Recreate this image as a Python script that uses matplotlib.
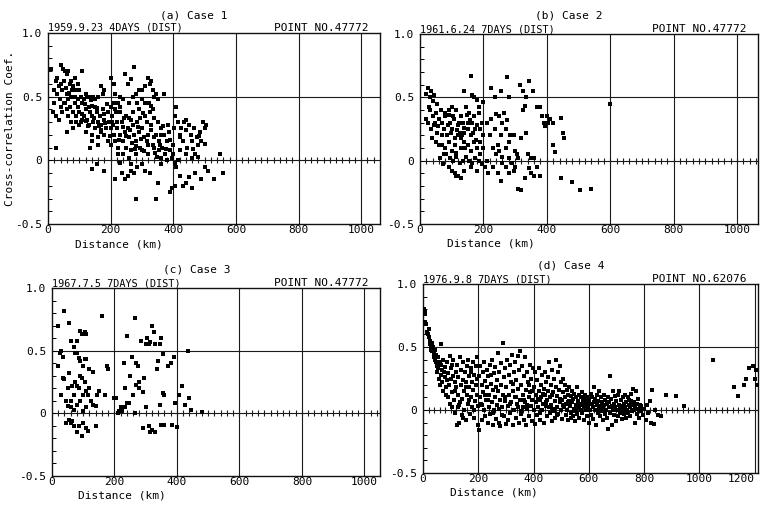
import numpy as np
import matplotlib
matplotlib.use("Agg")
from matplotlib import pyplot as plt
from matplotlib.ticker import MultipleLocator

plt.rcParams['font.family'] = ['DejaVu Sans Mono']

# ---- (a) Case 1 : 1959.9.23 4DAYS ----
dist_a = [10, 25, 28, 40, 42, 48, 55, 60, 65, 70, 75, 80, 85, 90, 95, 100, 110, 35, 45, 52,
          58, 62, 68, 72, 78, 30, 20, 38, 50, 65, 85, 95, 105, 115, 120, 125, 135, 145, 150, 160,
          170, 180, 175,
          15, 20, 25, 35, 40, 45, 55, 60, 65, 70, 75, 80, 85, 90, 95, 100, 105, 110, 115, 120,
          125, 130, 135, 140, 145, 150, 155, 160, 165, 170, 175, 180, 185, 190, 195, 200, 205, 210,
          215, 220, 225, 230, 60, 80, 100, 120, 140, 160, 180, 200, 90, 110, 130, 150, 170, 190,
          25, 135, 160, 140,
          200, 210, 230, 245, 255, 265, 275, 280, 290, 300, 310, 320, 325, 330, 335, 340, 345, 350,
          370, 240, 260, 285, 310, 330, 215, 225, 270, 300,
          205, 210, 215, 220, 225, 230, 235, 240, 245, 250, 255, 260, 265, 270, 275, 280, 285, 290,
          295, 300, 305, 310, 315, 320, 325, 330, 335, 340, 345, 350, 355, 360, 365, 370, 375, 380,
          385, 390, 395, 400, 240, 260, 280, 300, 320, 340, 360, 380, 250, 270, 290, 230, 265, 295,
          315, 335, 355,
          405, 410, 415, 420, 425, 430, 435, 440, 445, 450, 455, 460, 465, 470, 475, 480, 485, 490,
          495, 500, 505, 440, 420, 460, 480, 550, 415, 405,
          140, 180, 155, 215, 235, 245, 255, 265, 275, 280, 285, 310, 325, 345, 350, 360, 390, 395,
          405, 410, 420, 430, 440, 450, 460, 470, 490, 500, 510, 530, 560, 265, 300, 230,
          110, 118, 128, 138, 148, 158, 168, 178, 188, 198, 208, 218, 228, 238, 248, 258, 268, 278,
          288, 298, 308, 318, 328, 338, 348, 358, 368, 378, 388, 398, 122, 142, 162, 182, 202, 222,
          242, 262, 282, 302, 322, 342, 362, 382, 402, 422, 442, 462, 482, 502]
coef_a = [0.72, 0.62, 0.65, 0.75, 0.60, 0.72, 0.70, 0.68, 0.70, 0.60, 0.62, 0.58, 0.65, 0.55, 0.60, 0.55, 0.70, 0.58, 0.55, 0.62,
          0.57, 0.52, 0.53, 0.50, 0.55, 0.52, 0.55, 0.48, 0.45, 0.48, 0.50, 0.48, 0.50, 0.48, 0.52, 0.50, 0.50, 0.50, 0.48, 0.50,
          0.58, 0.55, 0.52,
          0.38, 0.45, 0.35, 0.32, 0.42, 0.38, 0.45, 0.40, 0.35, 0.42, 0.30, 0.38, 0.45, 0.35, 0.42, 0.38, 0.30, 0.45, 0.35, 0.40,
          0.32, 0.42, 0.38, 0.35, 0.30, 0.42, 0.38, 0.30, 0.35, 0.28, 0.40, 0.32, 0.25, 0.38, 0.30, 0.42, 0.35, 0.45,
          0.40, 0.30, 0.38, 0.42, 0.22, 0.25, 0.28, 0.22, 0.20, 0.18, 0.20, 0.25, 0.30, 0.32, 0.28, 0.25, 0.22, 0.15,
          0.10, 0.10, 0.12, 0.15,
          0.65, 0.60, 0.50, 0.68, 0.60, 0.64, 0.73, 0.52, 0.55, 0.55, 0.58, 0.65, 0.60, 0.62, 0.55, 0.50, 0.52, 0.48,
          0.52, 0.48, 0.45, 0.45, 0.45, 0.43, 0.52, 0.45, 0.50, 0.48,
          0.30, 0.20, 0.15, 0.25, 0.10, 0.20, 0.30, 0.15, 0.22, 0.10, 0.25, 0.18, 0.08, 0.28, 0.20, 0.15, 0.30, 0.22,
          0.10, 0.25, 0.18, 0.35, 0.30, 0.12, 0.38, 0.28, 0.40, 0.33, 0.20, 0.30, 0.15, 0.25, 0.10, 0.20, 0.05, 0.15,
          0.22, 0.08, 0.02, 0.12, 0.05, 0.02, 0.05, 0.08, 0.05, 0.10, 0.02, 0.00, 0.35, 0.38, 0.40, 0.38, 0.32, 0.33,
          0.15, 0.12, 0.08,
          0.35, 0.42, 0.30, 0.20, 0.25, 0.15, 0.30, 0.32, 0.10, 0.28, 0.20, 0.15, 0.25, 0.05, 0.18, 0.12, 0.22, 0.15,
          0.30, 0.25, 0.28, 0.05, 0.08, 0.02, 0.03, 0.05, 0.00, -0.02,
          -0.07, -0.08, -0.03, -0.15, -0.10, -0.15, -0.12, -0.08, -0.10, -0.30, -0.05, -0.08, -0.10, -0.30, -0.18, -0.03, -0.25, -0.22,
          -0.20, -0.05, -0.12, -0.20, -0.18, -0.13, -0.22, -0.10, -0.15, -0.05, -0.08, -0.15, -0.10, -0.03, -0.03, -0.02,
          0.36, 0.44, 0.27, 0.47, 0.33, 0.41, 0.24, 0.36, 0.44, 0.19, 0.28, 0.38, 0.16, 0.26, 0.19, 0.33, 0.14, 0.09,
          0.26, 0.17, 0.07, 0.20, 0.24, 0.18, 0.03, 0.12, 0.27, 0.09, 0.16, 0.05, 0.31, 0.43, 0.27, 0.29, 0.12, 0.05,
          0.33, 0.24, 0.11, 0.37, 0.45, 0.06, 0.20, 0.28, 0.25, 0.18, 0.24, 0.09, 0.19, 0.13]

# ---- (b) Case 2 : 1961.6.24 7DAYS ----
dist_b = [20, 25, 30, 35, 40, 45, 55, 160, 140, 170, 180, 165, 185, 200, 225, 235, 255, 275, 280, 315,
          325, 335, 345, 355, 600,
          20, 25, 30, 35, 40, 45, 50, 55, 60, 65, 70, 75, 80, 85, 90, 95, 100, 105, 110, 115, 120,
          125, 130, 135, 140, 145, 150, 155, 160, 165, 170, 175, 180, 185, 190, 195, 200, 50, 60, 70,
          80, 90, 100, 110, 120, 130, 140, 150, 160, 170, 180, 190, 75, 95, 105, 115, 125, 135, 145,
          155, 165, 175, 185, 195, 210, 90, 100, 110, 115, 120, 130, 140, 160, 180, 205, 215,
          210, 220, 225, 235, 240, 245, 250, 255, 260, 265, 270, 275, 280, 285, 290, 295, 300, 305,
          310, 320, 325, 330, 335, 340, 350, 360, 370, 380, 385, 390, 395, 400, 405, 410, 420, 420,
          425, 445, 450, 455, 230, 240, 250, 260, 270, 280, 300, 290, 245, 255, 270, 280, 295, 310,
          320, 330, 350, 360, 370, 380, 445, 480, 505, 540, 230, 260, 345,
          28, 38, 48, 58, 68, 78, 88, 98, 108, 118, 128, 138, 148, 158, 168, 178, 188, 198,
          62, 72, 82, 92, 102, 112, 122, 132, 142, 152]
coef_b = [0.53, 0.57, 0.50, 0.55, 0.47, 0.52, 0.45, 0.67, 0.55, 0.50, 0.48, 0.52, 0.42, 0.46, 0.57, 0.50, 0.55, 0.66, 0.50, 0.60,
          0.55, 0.50, 0.63, 0.55, 0.45,
          0.33, 0.30, 0.40, 0.25, 0.35, 0.28, 0.38, 0.22, 0.33, 0.40, 0.30, 0.25, 0.35, 0.20, 0.40, 0.30, 0.25, 0.35, 0.18, 0.40, 0.28,
          0.22, 0.35, 0.30, 0.15, 0.42, 0.25, 0.38, 0.20, 0.30, 0.35, 0.25, 0.28, 0.38, 0.15, 0.30, 0.20, 0.15, 0.12, 0.20,
          0.10, 0.15, 0.08, 0.12, 0.20, 0.10, 0.22, 0.12, 0.08, 0.15, 0.10, 0.05, 0.05, 0.02, 0.00, 0.03, -0.02, 0.00, 0.03,
          0.00, -0.02, 0.02, 0.00, -0.03, 0.00, -0.05, -0.08, -0.10, -0.12, -0.12, -0.14, -0.08, -0.05, -0.08, -0.05, -0.10,
          0.30, 0.20, 0.33, 0.25, 0.37, 0.12, 0.35, 0.20, 0.30, 0.38, 0.25, 0.32, 0.15, 0.20, 0.20, 0.20, 0.08, 0.05,
          0.02, 0.18, 0.40, 0.43, 0.22, 0.05, 0.02, 0.02, 0.42, 0.42, 0.35, 0.30, 0.27, 0.35, 0.30, 0.33, 0.30, 0.12,
          0.07, 0.34, 0.22, 0.18, 0.10, 0.05, 0.08, 0.03, 0.10, 0.02, -0.05, -0.02, -0.10, -0.16, -0.05, -0.10, -0.08, -0.22,
          -0.23, -0.14, -0.10, -0.12, -0.05, -0.12, -0.14, -0.17, -0.23, -0.22, -0.05, -0.02, -0.06,
          0.42, 0.18, 0.30, 0.27, 0.12, 0.38, 0.28, 0.22, 0.33, 0.24, 0.18, 0.26, 0.36, 0.32, 0.22, 0.16, 0.25, 0.10,
          0.02, -0.03, 0.05, 0.36, 0.42, 0.06, 0.30, 0.20, 0.10, 0.30]

# ---- (c) Case 3 : 1967.7.5 7DAYS ----
dist_c = [20, 40, 30, 25, 20, 35, 55, 60, 70, 80, 90, 95, 105, 110, 160, 75, 80, 85, 90, 100,
          105, 110, 120, 130,
          30, 35, 40, 45, 50, 55, 60, 65, 70, 75, 80, 85, 90, 95, 100, 105, 110, 115, 120, 125,
          130, 140, 145, 150, 170, 175, 180, 200, 205, 50, 60, 70, 80, 90, 100, 110, 45, 55, 60,
          65, 70, 80, 85, 95, 100, 110, 115, 140,
          210, 215, 220, 230, 235, 240, 245, 250, 255, 260, 265, 270, 275, 280, 285, 290, 295, 300,
          305, 310, 315, 320, 325, 330, 335, 340, 345, 350, 355, 360, 370, 380, 390, 395, 405, 415,
          425, 435, 440, 445, 265, 225, 300, 280, 290, 310, 315, 320, 330, 350, 360, 385, 400, 270,
          345, 355, 240, 235, 480]
coef_c = [0.70, 0.82, 0.50, 0.48, 0.38, 0.45, 0.72, 0.58, 0.53, 0.58, 0.66, 0.63, 0.65, 0.63, 0.78, 0.48, 0.48, 0.44, 0.42, 0.38,
          0.43, 0.43, 0.35, 0.33,
          0.15, 0.28, 0.27, 0.10, 0.20, 0.32, 0.10, 0.22, 0.15, 0.25, 0.22, 0.20, 0.30, 0.28, 0.15, 0.25, 0.18, 0.15, 0.20, 0.10,
          0.07, 0.06, 0.15, 0.18, 0.15, 0.38, 0.35, 0.12, 0.12, 0.06, 0.05, 0.03, 0.07, 0.10, 0.02, 0.05, -0.08, -0.05, -0.08,
          -0.06, -0.10, -0.15, -0.10, -0.18, -0.08, -0.12, -0.14, -0.10,
          0.00, 0.02, 0.05, 0.40, 0.20, 0.62, 0.08, 0.30, 0.45, 0.15, 0.00, 0.40, 0.38, 0.20, 0.58, 0.17, 0.28, 0.55,
          0.60, 0.55, 0.57, 0.70, 0.65, 0.55, 0.35, 0.42, 0.55, 0.60, 0.47, 0.15, 0.38, 0.40, 0.45, 0.08, 0.15, 0.22,
          0.07, 0.50, 0.12, 0.03, 0.76, 0.02, 0.05, 0.25, -0.12, -0.10, -0.15, -0.13, -0.15, -0.09, -0.09, -0.09, -0.11, 0.23,
          0.07, 0.16, 0.08, 0.05, 0.01]

# ---- (d) Case 4 : 1976.9.8 7DAYS ----
dist_d = [3, 6, 9, 8, 12, 15, 18, 20, 22, 25, 27, 28, 30, 32, 34, 36, 38, 40, 42, 44, 46, 48, 50, 52, 54, 56, 58, 60,
          62, 64, 66, 68, 70, 72, 74, 76, 78, 80, 82, 84, 86, 88, 90, 92, 94, 96, 98, 100, 65,
          102, 104, 106, 108, 110, 112, 114, 116, 118, 120, 122, 124, 126, 128, 130, 132, 134, 136, 138, 140,
          142, 144, 146, 148, 150, 152, 154, 156, 158, 160, 162, 164, 166, 168, 170, 172, 174, 176, 178, 180,
          182, 184, 186, 188, 190, 192, 194, 196, 198, 200, 125, 145, 165, 185, 115, 135, 155, 175, 195, 105,
          202, 204, 206, 208, 210, 212, 214, 216, 218, 220, 222, 224, 226, 228, 230, 232, 234, 236, 238, 240,
          242, 244, 246, 248, 250, 252, 254, 256, 258, 260, 262, 264, 266, 268, 270, 272, 274, 276, 278, 280,
          282, 284, 286, 288, 290, 292, 294, 296, 298, 300, 215, 235, 255, 275, 295, 225, 245, 265, 285,
          302, 304, 306, 308, 310, 312, 314, 316, 318, 320, 322, 324, 326, 328, 330, 332, 334, 336, 338, 340,
          342, 344, 346, 348, 350, 352, 354, 356, 358, 360, 362, 364, 366, 368, 370, 372, 374, 376, 378, 380,
          382, 384, 386, 388, 390, 392, 394, 396, 398, 400, 315, 335, 355, 375, 395, 325, 345, 365, 385,
          402, 404, 406, 408, 410, 412, 414, 416, 418, 420, 422, 424, 426, 428, 430, 432, 434, 436, 438, 440,
          442, 444, 446, 448, 450, 452, 454, 456, 458, 460, 462, 464, 466, 468, 470, 472, 474, 476, 478, 480,
          482, 484, 486, 488, 490, 492, 494, 496, 498, 500, 415, 435, 455, 475, 495, 425, 445, 465, 485,
          502, 504, 506, 508, 510, 512, 514, 516, 518, 520, 522, 524, 526, 528, 530, 532, 534, 536, 538, 540,
          542, 544, 546, 548, 550, 552, 554, 556, 558, 560, 562, 564, 566, 568, 570, 572, 574, 576, 578, 580,
          582, 584, 586, 588, 590, 592, 594, 596, 598, 600, 505, 525, 545, 565, 585, 515, 535, 555, 575,
          602, 604, 606, 608, 610, 612, 614, 616, 618, 620, 622, 624, 626, 628, 630, 632, 634, 636, 638, 640,
          642, 644, 646, 648, 650, 652, 654, 656, 658, 660, 662, 664, 666, 668, 670, 672, 674, 676, 678, 680,
          682, 684, 686, 688, 690, 692, 694, 696, 698, 700,
          702, 704, 706, 708, 710, 712, 714, 716, 718, 720, 722, 724, 726, 728, 730, 732, 734, 736, 738, 740,
          742, 744, 746, 748, 750, 752, 754, 756, 758, 760, 762, 764, 766, 768, 770, 772, 774, 776, 778, 780,
          782, 784, 786, 788, 790, 795, 800,
          805, 810, 815, 820, 825, 830, 835, 840, 850, 860, 880, 915, 945, 1050, 1125, 1140, 1160, 1170, 1180,
          1195, 1200, 1205, 1208]
coef_d = [0.80, 0.78, 0.76, 0.70, 0.68, 0.62, 0.60, 0.64, 0.58, 0.55, 0.52, 0.50, 0.48, 0.53, 0.47, 0.50, 0.45, 0.42, 0.48, 0.40,
          0.44, 0.38, 0.35, 0.30, 0.42, 0.33, 0.25, 0.38, 0.20, 0.28, 0.36, 0.32, 0.22, 0.40, 0.15, 0.30, 0.26, 0.34, 0.18, 0.12,
          0.24, 0.38, 0.29, 0.10, 0.20, 0.43, 0.05, 0.25, 0.52,
          0.33, 0.14, 0.02, 0.27, 0.40, 0.08, 0.22, -0.02, 0.30, 0.18, -0.12, 0.36, 0.12, 0.26, 0.04, -0.10, 0.42, 0.20, 0.32, 0.09,
          -0.04, 0.24, 0.38, 0.15, 0.00, 0.30, 0.22, -0.08, 0.35, 0.12, 0.05, 0.40, 0.27, 0.18, -0.03, 0.33, 0.10, 0.22, 0.02, 0.38,
          0.16, 0.28, -0.06, 0.07, 0.35, 0.20, 0.12, 0.42, -0.12, 0.03, 0.02, -0.06, 0.08, 0.00, 0.15, 0.06, 0.18, 0.30, 0.25, 0.36,
          0.27, -0.16, 0.10, 0.35, 0.05, 0.20, -0.08, 0.30, 0.14, 0.00, 0.38, 0.23, -0.05, 0.08, 0.32, 0.18, -0.10, 0.27, 0.02, 0.12,
          0.36, -0.03, 0.21, 0.06, 0.40, -0.12, 0.16, 0.29, 0.00, 0.10, 0.34, -0.07, 0.24, 0.04, 0.45, 0.15, -0.10, 0.30, 0.08, -0.13,
          0.20, 0.37, 0.02, 0.12, 0.53, -0.05, 0.26, 0.07, 0.33, -0.11, 0.04, 0.08, -0.02, 0.01, 0.10, 0.12, 0.28, 0.18, -0.04,
          0.18, 0.40, 0.03, -0.08, 0.28, 0.12, 0.36, -0.02, 0.22, 0.06, 0.44, -0.12, 0.15, 0.30, 0.00, 0.10, 0.38, -0.06, 0.24, 0.05,
          0.43, 0.17, -0.10, 0.32, 0.47, 0.08, -0.03, 0.20, 0.35, 0.02, 0.12, -0.08, 0.27, 0.42, 0.06, 0.16, -0.12, 0.30, 0.01, 0.22,
          0.10, -0.05, 0.36, 0.14, 0.03, 0.25, -0.09, 0.08, 0.33, 0.00, 0.05, 0.10, -0.01, 0.04, 0.15, 0.21, 0.02, 0.08, 0.20,
          0.18, -0.11, 0.30, 0.06, 0.12, 0.24, -0.04, 0.02, 0.15, 0.33, 0.08, -0.08, 0.20, 0.10, 0.28, 0.00, 0.05, 0.17, -0.10, 0.30,
          0.12, 0.03, 0.22, -0.05, 0.08, 0.26, 0.15, 0.38, -0.02, 0.10, 0.20, 0.04, -0.09, 0.32, 0.14, 0.01, 0.25, 0.07, -0.06, 0.18,
          0.40, 0.02, 0.11, 0.30, -0.03, 0.16, 0.06, 0.35, 0.00, 0.22, 0.09, 0.13, 0.02, -0.01, 0.09, -0.02, 0.06, 0.12, -0.04,
          0.08, -0.07, 0.14, 0.25, 0.02, 0.10, 0.20, -0.04, 0.05, 0.16, 0.00, 0.12, -0.08, 0.07, 0.18, 0.03, -0.02, 0.11, 0.06, 0.15,
          -0.05, 0.09, 0.01, 0.13, -0.09, 0.04, 0.10, 0.18, -0.03, 0.07, 0.02, 0.12, -0.06, 0.05, 0.00, 0.10, 0.14, -0.02, 0.06, 0.09,
          -0.08, 0.03, 0.12, 0.00, 0.07, -0.05, 0.10, 0.02, 0.05, -0.10, 0.04, 0.06, -0.01, 0.03, 0.06, 0.10, -0.06, 0.00, 0.04,
          0.08, 0.00, 0.13, -0.04, 0.05, 0.10, 0.02, -0.07, 0.06, 0.18, 0.00, 0.09, -0.12, 0.04, 0.12, -0.02, 0.07, 0.01, 0.15, -0.05,
          0.03, 0.10, -0.01, 0.06, -0.08, 0.02, 0.12, 0.04, -0.03, 0.08, 0.00, 0.05, -0.06, 0.10, -0.15, 0.02, 0.06, 0.27, -0.02, 0.09,
          0.03, -0.12, 0.15, 0.00, 0.05, -0.04, 0.11, 0.02, -0.09, 0.07,
          0.00, 0.12, -0.05, 0.04, 0.15, 0.01, -0.02, 0.08, 0.03, -0.07, 0.10, 0.00, 0.05, -0.03, 0.12, 0.02, -0.06, 0.06, 0.00, 0.10,
          -0.02, 0.04, 0.08, -0.05, 0.02, 0.07, 0.13, -0.01, 0.04, 0.17, 0.00, 0.06, -0.10, 0.03, 0.15, 0.01, -0.03, 0.05, 0.09, 0.00,
          -0.06, 0.04, 0.02, -0.01, 0.03, -0.04, 0.01,
          -0.08, 0.04, -0.02, 0.07, -0.10, 0.16, -0.11, 0.00, -0.04, -0.05, 0.12, 0.11, 0.03, 0.40, 0.18, 0.11, 0.20, 0.25, 0.33,
          0.35, 0.25, 0.32, 0.20]

panels = [
    ("(a) Case 1", "1959.9.23 4DAYS (DIST)", "POINT NO.47772", dist_a, coef_a, 1060, [0, 200, 400, 600, 800, 1000]),
    ("(b) Case 2", "1961.6.24 7DAYS (DIST)", "POINT NO.47772", dist_b, coef_b, 1066, [0, 200, 400, 600, 800, 1000]),
    ("(c) Case 3", "1967.7.5 7DAYS (DIST)", "POINT NO.47772", dist_c, coef_c, 1050, [0, 200, 400, 600, 800, 1000]),
    ("(d) Case 4", "1976.9.8 7DAYS (DIST)", "POINT NO.62076", dist_d, coef_d, 1212, [0, 200, 400, 600, 800, 1000, 1200]),
]

# axes boxes in pixels: left, top, right, bottom
boxes = [(48, 33, 380, 224), (420, 34, 758, 224), (52, 288, 380, 476), (423, 284, 758, 473)]

W, H = 761, 508
fig = plt.figure(figsize=(W / 100, H / 100), dpi=100)
fs = 8

for (case, date, point, x, y, xmax, xt), (l, t, r, b) in zip(panels, boxes):
    ax = fig.add_axes([l / W, 1 - b / H, (r - l) / W, (b - t) / H])
    ax.set_xlim(0, xmax)
    ax.set_ylim(-0.5, 1.0)

    # grid lines
    for gx in xt[1:]:
        ax.axvline(gx, color='#1a1a1a', lw=0.8, zorder=1)
    ax.axhline(0.5, color='#1a1a1a', lw=0.8, zorder=1)
    ax.axhline(0.0, color='#1a1a1a', lw=0.8, zorder=1)
    # cross marks along the zero line
    tx = np.arange(20, xmax, 20)
    ax.plot(tx, np.zeros(len(tx)), ls='', marker='|', ms=5, mew=0.8, color='#1a1a1a', zorder=1)

    ax.plot(x, y, ls='', marker='s', ms=2.6, mew=0, color='black', zorder=3)

    ax.set_xticks(xt)
    ax.set_xticklabels([str(v) for v in xt], fontsize=fs)
    if xt[-1] == 1200:
        ax.get_xticklabels()[-1].set_horizontalalignment('right')
    ax.set_yticks([-0.5, 0, 0.5, 1.0])
    ax.set_yticklabels(['-0.5', '0', '0.5', '1.0'], fontsize=fs)
    ax.yaxis.set_minor_locator(MultipleLocator(0.1))
    ax.tick_params(axis='x', length=0, pad=1)
    ax.tick_params(axis='y', which='both', direction='in', length=3, width=0.7, pad=4)
    for s in ax.spines.values():
        s.set_linewidth(1.0)
        s.set_color('#111111')

    # two header lines above each panel
    ax.annotate(case, xy=(0.44, 1.0), xycoords='axes fraction', xytext=(0, 13),
                textcoords='offset pixels', ha='center', va='bottom', fontsize=fs)
    ax.text(0.0, 1.0, date, transform=ax.transAxes, ha='left', va='bottom', fontsize=7.3)
    ax.text(0.965, 1.0, point, transform=ax.transAxes, ha='right', va='bottom', fontsize=fs)
    ax.text(0.08, -0.105, "Distance (km)", transform=ax.transAxes, ha='left', va='center', fontsize=fs)

    if case.startswith("(a)"):
        ax.set_ylabel("Cross-correlation Coef.", fontsize=fs)
        ax.yaxis.set_label_coords(-0.1, 0.5)

fig.savefig("out.png", dpi=100)
